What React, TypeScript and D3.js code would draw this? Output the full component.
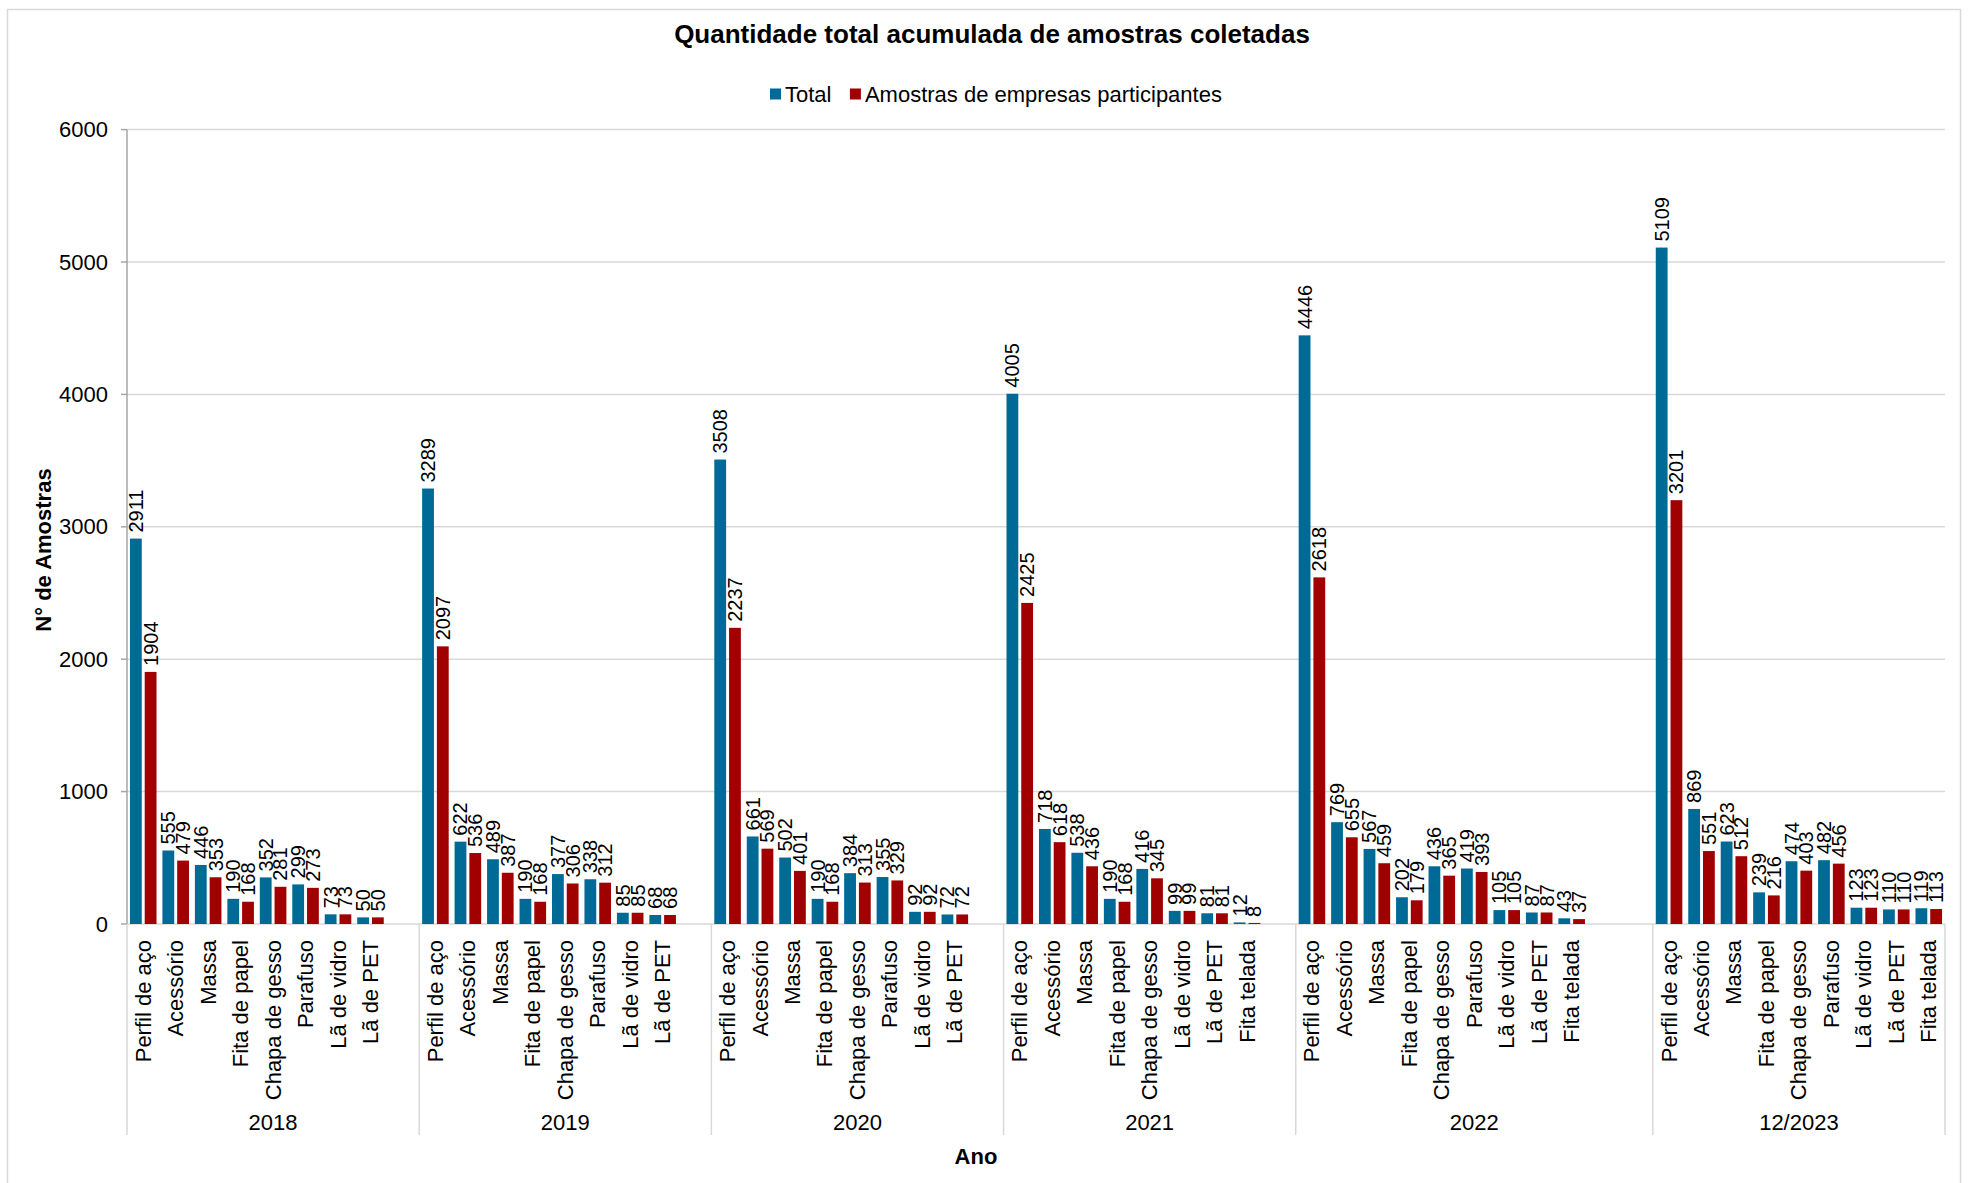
import React from "react";
import * as d3 from "d3";

const YEARS = ["2018", "2019", "2020", "2021", "2022", "12/2023"];

const CATS_2018 = ["Perfil de aço", "Acessório", "Massa", "Fita de papel", "Chapa de gesso", "Parafuso", "Lã de vidro", "Lã de PET", ""];
const TOTAL_2018 = [2911, 555, 446, 190, 352, 299, 73, 50, null];
const PART_2018 = [1904, 479, 353, 168, 281, 273, 73, 50, null];

const CATS_2019 = ["Perfil de aço", "Acessório", "Massa", "Fita de papel", "Chapa de gesso", "Parafuso", "Lã de vidro", "Lã de PET", ""];
const TOTAL_2019 = [3289, 622, 489, 190, 377, 338, 85, 68, null];
const PART_2019 = [2097, 536, 387, 168, 306, 312, 85, 68, null];

const CATS_2020 = ["Perfil de aço", "Acessório", "Massa", "Fita de papel", "Chapa de gesso", "Parafuso", "Lã de vidro", "Lã de PET", ""];
const TOTAL_2020 = [3508, 661, 502, 190, 384, 355, 92, 72, null];
const PART_2020 = [2237, 569, 401, 168, 313, 329, 92, 72, null];

const CATS_2021 = ["Perfil de aço", "Acessório", "Massa", "Fita de papel", "Chapa de gesso", "Lã de vidro", "Lã de PET", "Fita telada", ""];
const TOTAL_2021 = [4005, 718, 538, 190, 416, 99, 81, 12, null];
const PART_2021 = [2425, 618, 436, 168, 345, 99, 81, 8, null];

const CATS_2022 = ["Perfil de aço", "Acessório", "Massa", "Fita de papel", "Chapa de gesso", "Parafuso", "Lã de vidro", "Lã de PET", "Fita telada", "", ""];
const TOTAL_2022 = [4446, 769, 567, 202, 436, 419, 105, 87, 43, null, null];
const PART_2022 = [2618, 655, 459, 179, 365, 393, 105, 87, 37, null, null];

const CATS_2023 = ["Perfil de aço", "Acessório", "Massa", "Fita de papel", "Chapa de gesso", "Parafuso", "Lã de vidro", "Lã de PET", "Fita telada"];
const TOTAL_2023 = [5109, 869, 623, 239, 474, 482, 123, 110, 119];
const PART_2023 = [3201, 551, 512, 216, 403, 456, 123, 110, 113];

const Y_TICKS = [0, 1000, 2000, 3000, 4000, 5000, 6000];
const SERIES = ["Total", "Amostras de empresas participantes"];

const CATS = [CATS_2018, CATS_2019, CATS_2020, CATS_2021, CATS_2022, CATS_2023];
const TOTALS = [TOTAL_2018, TOTAL_2019, TOTAL_2020, TOTAL_2021, TOTAL_2022, TOTAL_2023];
const PARTS = [PART_2018, PART_2019, PART_2020, PART_2021, PART_2022, PART_2023];

const W = 1968;
const H = 1183;
const FONT = "'Liberation Sans', Arial, sans-serif";
const BLUE = "#006a96";
const RED = "#a10000";
const COLORS = [BLUE, RED];

export default function App() {
  const slots = YEARS.flatMap((yr, yi) =>
    CATS[yi].map((c, ci) => ({
      key: `${yi}-${ci}`,
      yi,
      cat: c,
      vals: [TOTALS[yi][ci], PARTS[yi][ci]] as (number | null)[],
    }))
  );

  const x = d3.scaleBand<string>().domain(slots.map((s) => s.key)).range([127, 1945]);
  const xs = d3
    .scaleBand<number>()
    .domain([0, 1])
    .range([0, x.bandwidth()])
    .paddingInner(0.2)
    .paddingOuter(0.2);
  const y = d3.scaleLinear().domain([0, 6000]).range([924, 129.6]);

  const groups = YEARS.map((yr, yi) => {
    const keys = slots.filter((s) => s.yi === yi).map((s) => s.key);
    const x0 = x(keys[0])!;
    const x1 = x(keys[keys.length - 1])! + x.bandwidth();
    return { yr, x0, x1 };
  });

  const legendX = 770;
  const legendY = 94;
  const totalW = 22 * 2.223;

  return (
    <>
      <style>{`body{margin:0;}`}</style>
      <svg width={W} height={H} style={{ display: "block", background: "#fff" }} fontFamily={FONT}>
        <rect x={0} y={0} width={W} height={H} fill="#fff" />
        <rect x={7.5} y={9.5} width={1953} height={1200} fill="none" stroke="#d9d9d9" strokeWidth={1.5} />

        {/* title */}
        <text x={992} y={34} textAnchor="middle" dominantBaseline="central" fontSize={26} fontWeight="bold" fill="#000">
          Quantidade total acumulada de amostras coletadas
        </text>

        {/* legend */}
        <g>
          <rect x={legendX} y={legendY - 5.5} width={11} height={11} fill={COLORS[0]} />
          <text x={legendX + 15} y={legendY} dominantBaseline="central" fontSize={22} fill="#000">
            {SERIES[0]}
          </text>
          <rect x={legendX + 15 + totalW + 16} y={legendY - 5.5} width={11} height={11} fill={COLORS[1]} />
          <text x={legendX + 15 + totalW + 16 + 15} y={legendY} dominantBaseline="central" fontSize={22} fill="#000">
            {SERIES[1]}
          </text>
        </g>

        {/* gridlines */}
        {Y_TICKS.map((t) => (
          <g key={t}>
            <line x1={127} x2={1945} y1={y(t)} y2={y(t)} stroke="#d9d9d9" strokeWidth={1.5} />
            <line x1={121} x2={127} y1={y(t)} y2={y(t)} stroke="#a6a6a6" strokeWidth={1.5} />
            <text x={108} y={y(t)} textAnchor="end" dominantBaseline="central" fontSize={22} fill="#000">
              {t}
            </text>
          </g>
        ))}

        {/* y axis line */}
        <line x1={127} x2={127} y1={y(6000)} y2={y(0)} stroke="#a6a6a6" strokeWidth={1.5} />

        {/* group separators */}
        {groups.map((g, i) => (
          <g key={i}>
            <line x1={g.x0} x2={g.x0} y1={y(0)} y2={1135} stroke="#d9d9d9" strokeWidth={1.5} />
            {i === groups.length - 1 && (
              <line x1={g.x1} x2={g.x1} y1={y(0)} y2={1135} stroke="#d9d9d9" strokeWidth={1.5} />
            )}
            <text x={(g.x0 + g.x1) / 2} y={1122} textAnchor="middle" dominantBaseline="central" fontSize={22} fill="#000">
              {g.yr}
            </text>
          </g>
        ))}

        {/* bars */}
        {slots.map((s) =>
          s.vals.map((v, si) =>
            v == null ? null : (
              <rect
                key={`${s.key}-${si}`}
                x={x(s.key)! + xs(si)!}
                y={y(v)}
                width={xs.bandwidth()}
                height={y(0) - y(v)}
                fill={COLORS[si]}
              />
            )
          )
        )}

        {/* data labels */}
        {slots.map((s) =>
          s.vals.map((v, si) => {
            if (v == null) return null;
            const cx = x(s.key)! + xs(si)! + xs.bandwidth() / 2;
            const cy = y(v) - 6;
            return (
              <text
                key={`l-${s.key}-${si}`}
                transform={`translate(${cx},${cy}) rotate(-90)`}
                textAnchor="start"
                dominantBaseline="central"
                fontSize={20}
                fill="#000"
              >
                {v}
              </text>
            );
          })
        )}

        {/* category labels */}
        {slots.map((s) =>
          s.cat ? (
            <text
              key={`c-${s.key}`}
              transform={`translate(${x(s.key)! + x.bandwidth() / 2},${940}) rotate(-90)`}
              textAnchor="end"
              dominantBaseline="central"
              fontSize={22}
              fill="#000"
            >
              {s.cat}
            </text>
          ) : null
        )}

        {/* axis titles */}
        <text
          transform={`translate(43,550) rotate(-90)`}
          textAnchor="middle"
          dominantBaseline="central"
          fontSize={22}
          fontWeight="bold"
          fill="#000"
        >
          N° de Amostras
        </text>
        <text x={976} y={1156} textAnchor="middle" dominantBaseline="central" fontSize={22} fontWeight="bold" fill="#000">
          Ano
        </text>
      </svg>
    </>
  );
}
